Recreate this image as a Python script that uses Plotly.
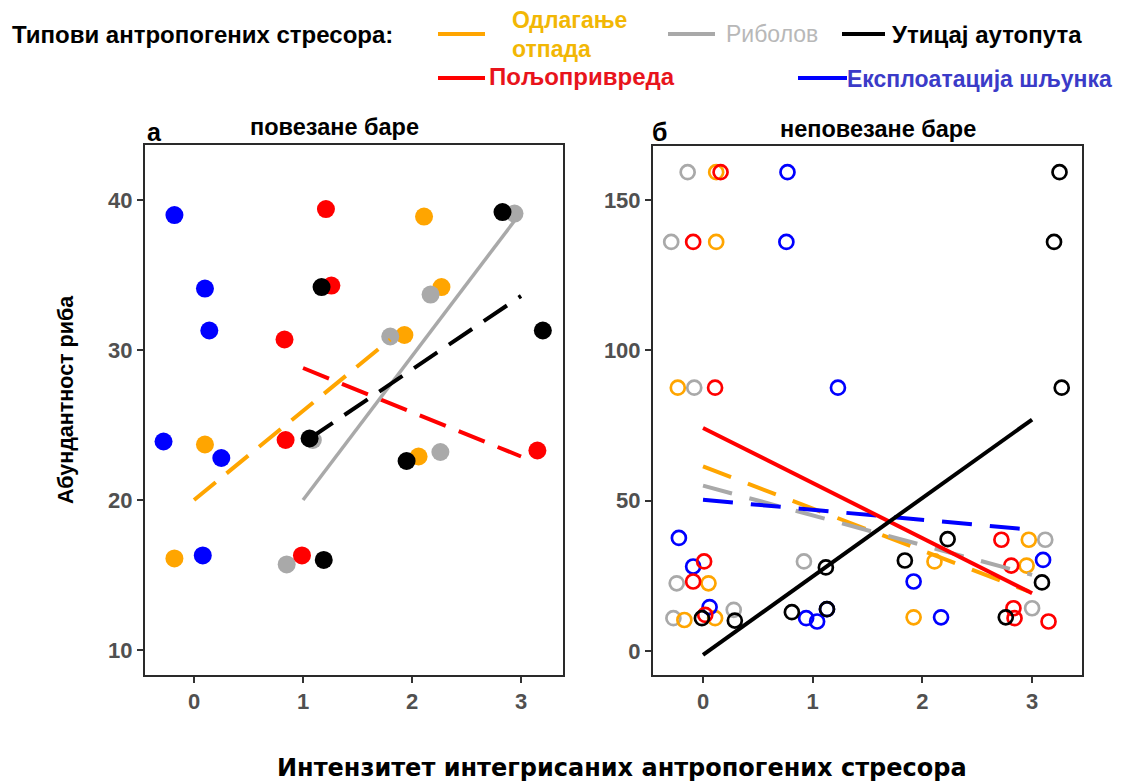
import plotly.graph_objects as go

# page body has an 8px margin; work in reference-pixel coordinates and shift
OFF = 8
W, H = 1129 - OFF, 783 - OFF

# ---------------- data: panel a (повезане баре) ----------------
a_blue_x = [-0.18, 0.10, 0.14, -0.28, 0.25, 0.08]
a_blue_y = [39.0, 34.1, 31.3, 23.9, 22.8, 16.3]
a_red_x = [1.21, 1.26, 0.83, 0.84, 0.99, 3.15]
a_red_y = [39.4, 34.3, 30.7, 24.0, 16.3, 23.3]
a_orange_x = [2.11, 2.27, 1.93, 0.10, -0.18, 2.06]
a_orange_y = [38.9, 34.2, 31.0, 23.7, 16.1, 22.9]
a_gray_x = [2.94, 2.17, 1.80, 1.09, 0.85, 2.26]
a_gray_y = [39.1, 33.7, 30.9, 24.0, 15.7, 23.2]
a_black_x = [2.83, 1.17, 3.20, 1.06, 1.95, 1.19]
a_black_y = [39.2, 34.2, 31.3, 24.1, 22.6, 16.0]

# regression lines panel a (endpoints)
a_orange_line_x = [0.0, 1.8]
a_orange_line_y = [20.0, 30.7]
a_gray_line_x = [1.0, 2.97]
a_gray_line_y = [20.0, 38.9]
a_black_line_x = [1.06, 3.0]
a_black_line_y = [24.1, 33.6]
a_red_line_x = [1.0, 3.0]
a_red_line_y = [28.8, 22.9]

# ---------------- data: panel b (неповезане баре) ----------------
b_blue_x = [0.77, 0.76, 1.23, -0.22, -0.09, 0.06, 0.94, 1.04, 1.13, 1.92, 2.17, 3.10]
b_blue_y = [159.3, 136.1, 87.6, 37.6, 28.1, 14.6, 10.9, 9.8, 13.9, 23.1, 11.2, 30.3]
b_red_x = [0.16, -0.09, 0.11, 0.01, -0.09, 0.02, 2.72, 2.81, 2.83, 2.84, 3.15]
b_red_y = [159.3, 136.1, 87.6, 29.8, 23.1, 12.0, 37.0, 28.4, 14.2, 10.9, 9.8]
b_orange_x = [0.12, 0.12, -0.23, 0.05, -0.17, 0.11, 2.11, 1.92, 2.97, 2.95]
b_orange_y = [159.3, 136.1, 87.6, 22.5, 10.3, 10.9, 29.8, 11.2, 37.0, 28.4]
b_gray_x = [-0.14, -0.29, -0.08, -0.24, -0.27, 0.28, 0.92, 3.12, 3.00]
b_gray_y = [159.3, 136.1, 87.6, 22.5, 10.9, 13.7, 29.8, 37.0, 14.2]
b_black_x = [3.25, 3.20, 3.27, -0.01, 0.29, 0.81, 1.12, 1.13, 1.84, 2.23, 2.76, 3.09]
b_black_y = [159.3, 136.1, 87.6, 10.9, 10.1, 12.9, 27.8, 13.9, 30.1, 37.2, 11.2, 22.8]

b_red_line_x = [0.0, 3.0]
b_red_line_y = [74.2, 19.2]
b_black_line_x = [0.0, 3.0]
b_black_line_y = [-1.3, 77.0]
b_orange_line_x = [0.0, 2.97]
b_orange_line_y = [61.4, 19.8]
b_gray_line_x = [0.0, 3.0]
b_gray_line_y = [55.0, 25.3]
b_blue_line_x = [0.0, 3.0]
b_blue_line_y = [50.3, 40.3]

x_ticks = [0, 1, 2, 3]
a_y_ticks = [10, 20, 30, 40]
b_y_ticks = [0, 50, 100, 150]

ORANGE, RED, GRAY, BLACK, BLUE = "#FFA500", "#FF0000", "#A9A9A9", "#000000", "#0000FF"

fig = go.Figure()

def pts(x, y, color, ax, filled):
    if filled:
        m = dict(color=color, size=18, symbol="circle", line=dict(width=0))
    else:
        m = dict(color=color, size=14, symbol="circle-open", line=dict(width=2.7, color=color))
    fig.add_trace(go.Scatter(x=x, y=y, mode="markers", marker=m, xaxis=ax[0], yaxis=ax[1],
                             showlegend=False, hoverinfo="skip"))

def line(x, y, color, ax, dash, width=4):
    fig.add_trace(go.Scatter(x=x, y=y, mode="lines", line=dict(color=color, width=width, dash=dash),
                             xaxis=ax[0], yaxis=ax[1], showlegend=False, hoverinfo="skip"))

A = ("x", "y")
B = ("x2", "y2")

pts(a_blue_x, a_blue_y, BLUE, A, True)
pts(a_orange_x, a_orange_y, ORANGE, A, True)
pts(a_gray_x, a_gray_y, GRAY, A, True)
pts(a_red_x, a_red_y, RED, A, True)
pts(a_black_x, a_black_y, BLACK, A, True)

line(a_orange_line_x, a_orange_line_y, ORANGE, A, "28px,14px")
line(a_red_line_x, a_red_line_y, RED, A, "28px,14px")
line(a_gray_line_x, a_gray_line_y, GRAY, A, "solid", 3.5)
line(a_black_line_x, a_black_line_y, BLACK, A, "28px,14px")

pts(b_gray_x, b_gray_y, GRAY, B, False)
pts(b_orange_x, b_orange_y, ORANGE, B, False)
pts(b_blue_x, b_blue_y, BLUE, B, False)
pts(b_red_x, b_red_y, RED, B, False)
pts(b_black_x, b_black_y, BLACK, B, False)

line(b_orange_line_x, b_orange_line_y, ORANGE, B, "30px,18px")
line(b_gray_line_x, b_gray_line_y, GRAY, B, "30px,18px")
line(b_blue_line_x, b_blue_line_y, BLUE, B, "30px,18px")
line(b_red_line_x, b_red_line_y, RED, B, "solid")
line(b_black_line_x, b_black_line_y, BLACK, B, "solid")

SANS = "Liberation Sans, Arial, sans-serif"
tickfont = dict(family=SANS, size=22, color="#505050", weight="bold")
axis_common = dict(showline=True, linecolor="#2a2a2a", linewidth=2, mirror=True, ticks="outside",
                   ticklen=6, tickwidth=2, tickcolor="#333333", showgrid=False, zeroline=False,
                   tickfont=tickfont)

def px_x(p):
    return (p - OFF) / W

def px_y(p):
    return 1 - (p - OFF) / H

fig.update_layout(
    width=W, height=H, margin=dict(l=0, r=0, t=0, b=0),
    paper_bgcolor="white", plot_bgcolor="white", showlegend=False,
    xaxis=dict(domain=[px_x(145), px_x(563)], range=[-0.45, 3.385], tickvals=x_ticks, anchor="y", **axis_common),
    yaxis=dict(domain=[px_y(675), px_y(145)], range=[8.33, 43.67], tickvals=a_y_ticks, anchor="x", **axis_common),
    xaxis2=dict(domain=[px_x(653), px_x(1082)], range=[-0.456, 3.455], tickvals=x_ticks, anchor="y2", **axis_common),
    yaxis2=dict(domain=[px_y(675), px_y(146)], range=[-8, 168], tickvals=b_y_ticks, anchor="x2", **axis_common),
)

ann = []
def text(x, y, t, size, color="#000000", xanchor="left", angle=0, weight="bold", fam=SANS):
    ann.append(dict(x=px_x(x), y=px_y(y), xref="paper", yref="paper", text=t, showarrow=False,
                    xanchor=xanchor, yanchor="middle", textangle=angle, borderpad=0,
                    font=dict(family=fam, size=size, color=color, weight=weight)))

# panel titles
text(146, 132, "а", 25)
text(334, 127, "повезане баре", 23.5, xanchor="center")
text(651, 132, "б", 25)
text(878, 129, "неповезане баре", 23.5, xanchor="center")
# axis titles
text(66, 400, "Абундантност риба", 21.5, xanchor="center", angle=-90)
text(622, 768, "Интензитет интегрисаних антропогених стресора", 24, xanchor="center",
     fam="DejaVu Sans, Liberation Sans, sans-serif")

# legend
text(11, 35, "Типови антропогених стресора:", 24)
text(511, 20, "Одлагање", 23, color="#F2B705")
text(511, 49, "отпада", 23, color="#F2B705")
text(725, 34, "Риболов", 23, color="#B8B8B8", weight="normal")
text(891, 34, "Утицај аутопута", 24)
text(488, 77, "Пољопривреда", 24, color="#E8141C")
text(846, 79, "Експлоатација шљунка", 23, color="#3B3BC8")

shapes = []
def legline(x0, x1, y, color):
    shapes.append(dict(type="line", xref="paper", yref="paper", x0=px_x(x0), x1=px_x(x1),
                       y0=px_y(y), y1=px_y(y), line=dict(color=color, width=4)))

legline(438, 485, 34, ORANGE)
legline(668, 715, 34, GRAY)
legline(842, 885, 34, BLACK)
legline(438, 485, 78, RED)
legline(798, 847, 78, BLUE)

fig.update_layout(annotations=ann, shapes=shapes)
fig.write_html("out.html")
